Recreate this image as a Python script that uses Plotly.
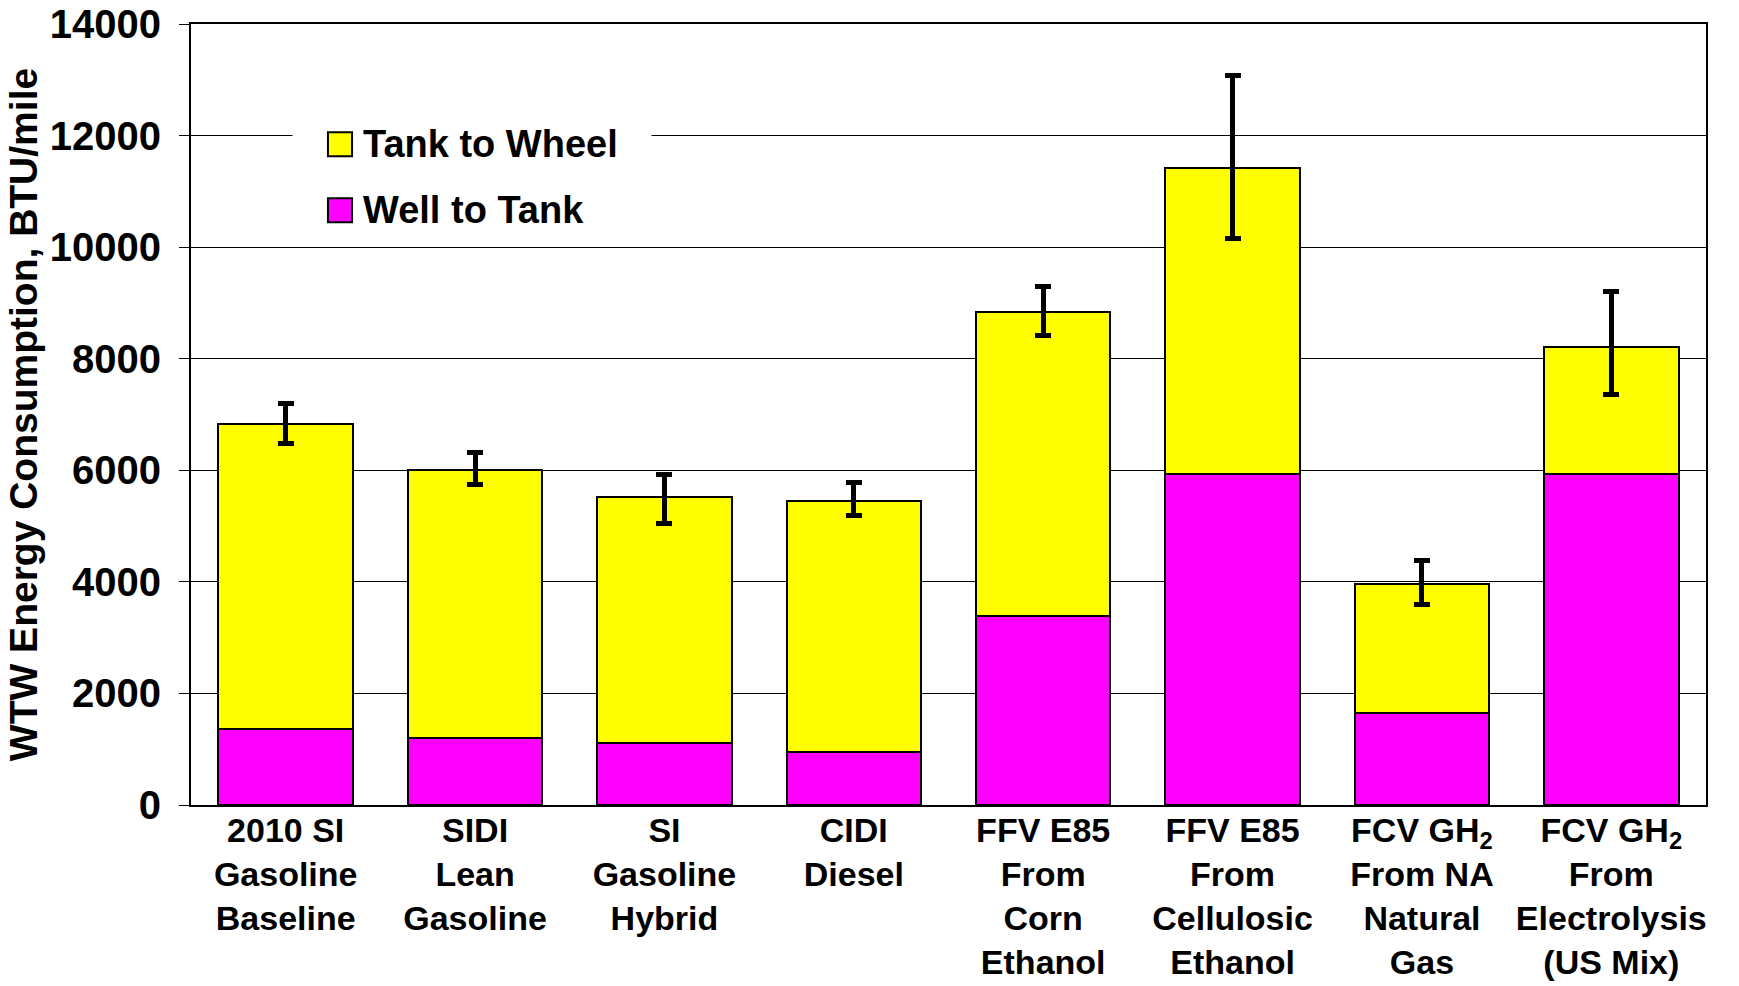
import plotly.graph_objects as go

categories = [
    "2010 SI<br>Gasoline<br>Baseline",
    "SIDI<br>Lean<br>Gasoline",
    "SI<br>Gasoline<br>Hybrid",
    "CIDI<br>Diesel",
    "FFV E85<br>From<br>Corn<br>Ethanol",
    "FFV E85<br>From<br>Cellulosic<br>Ethanol",
    "FCV GH<sub>2</sub><br>From NA<br>Natural<br>Gas",
    "FCV GH<sub>2</sub><br>From<br>Electrolysis<br>(US Mix)",
]
well_to_tank = [1370, 1210, 1110, 950, 3380, 5930, 1650, 5930]
tank_to_wheel = [5460, 4790, 4420, 4500, 5450, 5480, 2310, 2280]
err_plus = [370, 320, 390, 340, 460, 1670, 420, 1000]
err_minus = [350, 250, 480, 260, 420, 1250, 360, 850]

series_names = ["Tank to Wheel", "Well to Tank"]
series_colors = ["#ffff00", "#ff00ff"]


def bold(size):
    return dict(family="Arial, Liberation Sans", size=size, color="black", weight="bold")


fig = go.Figure()
fig.add_trace(go.Bar(x=categories, y=well_to_tank, name=series_names[1],
                     marker=dict(color=series_colors[1], line=dict(color="black", width=2))))
fig.add_trace(go.Bar(x=categories, y=tank_to_wheel, name=series_names[0],
                     marker=dict(color=series_colors[0], line=dict(color="black", width=2)),
                     error_y=dict(type="data", array=err_plus, arrayminus=err_minus,
                                  color="black", thickness=5, width=8)))

# hand-drawn legend so the swatches can be as big as in the original
fig.add_shape(type="rect", xref="x domain", yref="y domain", x0=0.067, x1=0.304,
              y0=0.745, y1=0.885, fillcolor="white", line_width=0, layer="above")
for i, (name, color) in enumerate(zip(series_names, series_colors)):
    yc = 0.846 - i * 0.0845
    fig.add_shape(type="rect", xref="x domain", yref="y domain", x0=0.0904, x1=0.1063,
                  y0=yc - 0.0154, y1=yc + 0.0154, fillcolor=color,
                  line=dict(color="black", width=2), layer="above")
    fig.add_annotation(xref="x domain", yref="y domain", x=0.1125, y=yc, text=name,
                       showarrow=False, xanchor="left", yanchor="middle", font=bold(38))

fig.update_layout(
    width=1739, height=986,
    barmode="stack", bargap=0.29,
    paper_bgcolor="white", plot_bgcolor="white",
    margin=dict(l=191, r=33, t=24, b=181),
    font=bold(34),
    showlegend=False,
)
fig.update_yaxes(range=[0, 14000], dtick=2000, tickformat="d", automargin=False,
                 showgrid=True, gridcolor="black", gridwidth=1,
                 showline=True, linecolor="black", linewidth=2, mirror=True,
                 ticks="outside", ticklen=10, tickcolor="black", tickwidth=1,
                 ticklabelstandoff=10, tickfont=bold(40), zeroline=False,
                 title=dict(text="WTW Energy Consumption, BTU/mile", font=bold(39), standoff=0))
fig.update_xaxes(showline=True, linecolor="black", linewidth=2, mirror=True, automargin=False,
                 ticks="", ticklabelstandoff=-6, tickfont=bold(34), tickangle=0)

# drop the page's default 8px body margin so the figure fills the window
fig.write_html("out.html", config={"displayModeBar": False},
               post_script="document.body.style.margin='0';")
